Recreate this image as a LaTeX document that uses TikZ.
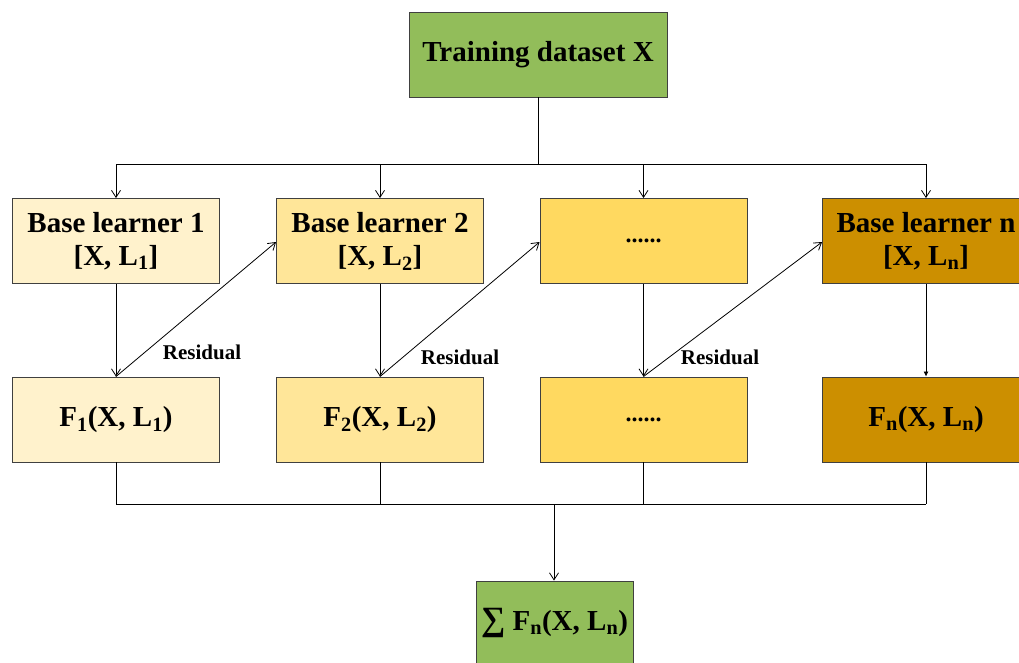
\documentclass[tikz,border=0pt]{standalone}
\usepackage{fontspec}
\setmainfont{Liberation Serif}
\usetikzlibrary{arrows.meta}
\definecolor{cgreen}{HTML}{92BD5A}
\definecolor{cy1}{HTML}{FFF2CC}
\definecolor{cy2}{HTML}{FFE699}
\definecolor{cy3}{HTML}{FFD960}
\definecolor{cy4}{HTML}{CC8F00}
\definecolor{bord}{HTML}{404040}
\tikzset{
  box/.style={draw=bord, line width=0.9pt, minimum width=207pt, minimum height=85pt, inner sep=0pt, align=center, font=\fontsize{29}{33}\selectfont\bfseries},
  conn/.style={line width=0.8pt},
  arr/.style={conn, -{Straight Barb[length=7pt,width=9pt]}},
  lbl/.style={font=\fontsize{21}{24}\selectfont\bfseries, inner sep=0pt},
}
\newcommand{\sbs}[1]{\textsubscript{#1}}
\begin{document}
\begin{tikzpicture}[x=1pt,y=-1pt]
\useasboundingbox[fill=white] (0,0) rectangle (1019,662);
\node[box, fill=cgreen, minimum width=258pt] (top) at (538,54.5) {Training dataset X};
\node[box, fill=cy1] (b1) at (116,241) {Base learner 1\\{[X, L\sbs{1}]}};
\node[box, fill=cy2] (b2) at (380,241) {Base learner 2\\{[X, L\sbs{2}]}};
\node[box, fill=cy3] (b3) at (643.5,241) {\fontsize{24}{24}\selectfont ......};
\node[box, fill=cy4] (b4) at (926,241) {Base learner n\\{[X, L\sbs{n}]}};
\node[box, fill=cy1] (f1) at (116,419.5) {F\sbs{1}(X, L\sbs{1})};
\node[box, fill=cy2] (f2) at (380,419.5) {F\sbs{2}(X, L\sbs{2})};
\node[box, fill=cy3] (f3) at (643.5,419.5) {\fontsize{24}{24}\selectfont ......};
\node[box, fill=cy4] (f4) at (926,419.5) {F\sbs{n}(X, L\sbs{n})};
\node[box, fill=cgreen, minimum width=157pt, minimum height=84pt] (sum) at (554.5,623) {{\fontsize{34}{34}\selectfont ∑} F\sbs{n}(X, L\sbs{n})};
\coordinate (split) at (538,164);
\coordinate (merge) at (554,504);
\draw[conn] (top.south) -- (split);
\draw[conn] (b1.north |- split) -- (b4.north |- split);
\foreach \b in {b1,b2,b3,b4} \draw[arr] (\b.north |- split) -- (\b.north);
\draw[arr] (b1.south) -- (f1.north);
\draw[arr] (b2.south) -- (f2.north);
\draw[arr] (b3.south) -- (f3.north);
\draw[conn,-{Latex[length=5pt,width=5pt]}] (b4.south) -- (f4.north);
\draw[arr] (f1.north) -- ([yshift=-1pt]b2.west);
\draw[arr] (f2.north) -- ([yshift=-1pt]b3.west);
\draw[arr] (f3.north) -- ([yshift=-1pt]b4.west);
\node[lbl] (r1) at (202,352) {Residual};
\node[lbl] (r2) at (460,357) {Residual};
\node[lbl] (r3) at (720,357) {Residual};
\foreach \f in {f1,f2,f3,f4} \draw[conn] (\f.south) -- (\f.south |- merge);
\draw[conn] (f1.south |- merge) -- (f4.south |- merge);
\draw[arr] (merge) -- (merge |- sum.north);
\end{tikzpicture}
\end{document}
